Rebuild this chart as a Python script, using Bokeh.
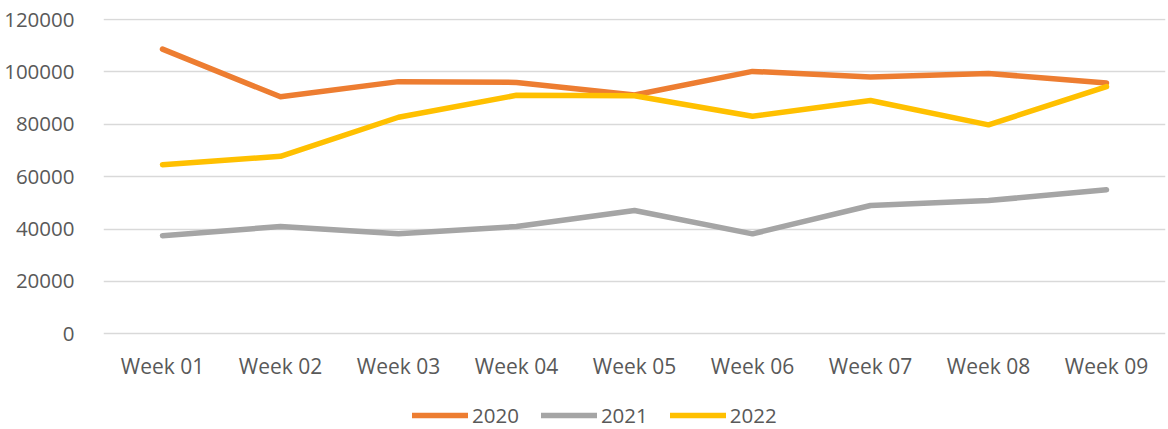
from bokeh.plotting import figure
from bokeh.models import (ColumnDataSource, Legend, LegendItem, FixedTicker,
                          NumeralTickFormatter, Range1d, FactorRange)
from bokeh.embed import file_html
from bokeh.resources import INLINE

weeks = ["Week 01", "Week 02", "Week 03", "Week 04", "Week 05",
         "Week 06", "Week 07", "Week 08", "Week 09"]
y2020 = [108700, 90500, 96300, 96000, 91200, 100200, 98100, 99400, 95800]
y2021 = [37500, 41000, 38200, 41000, 47100, 38200, 49000, 50900, 55000]
y2022 = [64600, 67800, 82700, 91100, 90900, 83100, 89100, 79800, 94400]
y_ticks = [0, 20000, 40000, 60000, 80000, 100000, 120000]
series_names = ["2020", "2021", "2022"]
series_colors = ["#ED7D31", "#A5A5A5", "#FFC000"]

FONT = "Open Sans"
TXT = "#595959"

p = figure(width=1168, height=429, x_range=FactorRange(*weeks),
           y_range=Range1d(-36500, 120400), output_backend="svg",
           toolbar_location=None, min_border_left=103, min_border_right=3,
           min_border_top=18, min_border_bottom=0)
p.outline_line_color = None
p.background_fill_color = "white"
p.border_fill_color = "white"

renderers = []
for name, vals, col in zip(series_names, [y2020, y2021, y2022], series_colors):
    src = ColumnDataSource(dict(x=weeks, y=vals))
    r = p.line("x", "y", source=src, line_color=col, line_width=5.5,
               line_cap="round", line_join="round")
    renderers.append((name, r))

p.xgrid.grid_line_color = None
p.ygrid.grid_line_color = "#D9D9D9"
p.ygrid.grid_line_width = 1.3

p.yaxis.ticker = FixedTicker(ticks=y_ticks)
p.yaxis.formatter = NumeralTickFormatter(format="0")
for ax in (p.xaxis, p.yaxis):
    ax.axis_line_color = None
    ax.major_tick_line_color = None
    ax.minor_tick_line_color = None
    ax.major_label_text_font = FONT
    ax.major_label_text_color = TXT
p.yaxis.major_label_text_font_size = "20.5px"
p.xaxis.major_label_text_font_size = "21px"
p.yaxis.major_label_standoff = 23
p.xaxis.fixed_location = 0
p.xaxis.major_label_standoff = 12

legend = Legend(items=[LegendItem(label=n, renderers=[r]) for n, r in renderers],
                orientation="horizontal", location=(309, 0),
                glyph_width=56, glyph_height=20, label_standoff=4, spacing=22,
                label_text_font=FONT, label_text_font_size="20.5px",
                label_text_color=TXT, border_line_color=None,
                background_fill_alpha=0, padding=0, margin=0)
p.add_layout(legend, "center")

open("out.html", "w").write(file_html(p, INLINE))
